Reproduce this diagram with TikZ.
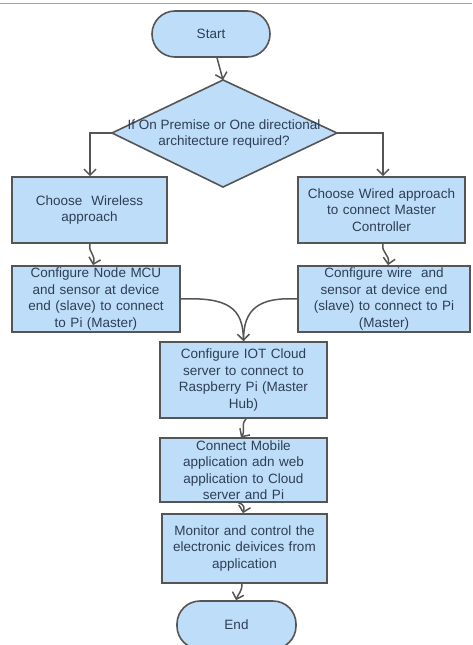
\documentclass[tikz,border=0pt]{standalone}
\usepackage{fontspec}
\setmainfont{Liberation Sans}
\usetikzlibrary{arrows.meta}
\definecolor{boxfill}{HTML}{BEDDF8}
\definecolor{boxline}{HTML}{555555}
\definecolor{txt}{HTML}{2E3E55}
\tikzset{
  box/.style={draw=boxline, fill=boxfill, line width=1.6pt, text=txt, align=center,
    inner sep=2pt, font=\fontsize{13.5}{16.5}\selectfont},
  term/.style={box, rounded corners=23pt},
  conn/.style={draw=boxline, line width=1.5pt, -{Straight Barb[length=6pt,width=12pt,line width=1.5pt]}},
  plain/.style={draw=boxline, line width=1.5pt}
}
\begin{document}
\begin{tikzpicture}[x=1pt,y=-1pt]
\useasboundingbox (0,0) rectangle (472,645);
\fill[white] (0,0) rectangle (472,645);
\draw[gray!70, line width=0.8pt] (0,3) -- (472,3);

\node[term, minimum width=118pt, minimum height=46pt] (start) at (211,34) {Start};

\coordinate (dT) at (223,80);
\coordinate (dL) at (112,133);
\coordinate (dR) at (337,133);
\coordinate (dB) at (223,187);
\path[draw=boxline, fill=boxfill, line width=1.6pt] (dT) -- (dR) -- (dB) -- (dL) -- cycle;
\node[text=txt, align=center, font=\fontsize{13.5}{16.5}\selectfont, inner sep=0pt] (dec) at (224,134)
  {If On Premise or One directional\\architecture required?};

\node[box, minimum width=155pt, minimum height=66pt, text width=150pt] (wl) at (89.5,210) {Choose\ \ Wireless\\approach};
\node[box, minimum width=167pt, minimum height=66pt, text width=162pt] (wd) at (381.5,210) {Choose Wired approach\\to connect Master\\Controller};
\node[box, minimum width=168pt, minimum height=66pt, text width=163pt] (mcu) at (96,299) {Configure Node MCU\\and sensor at device\\end (slave) to connect\\to Pi (Master)};
\node[box, minimum width=172pt, minimum height=66pt, text width=167pt] (wc) at (384,299) {Configure wire\ \ and\\sensor at device end\\(slave) to connect to Pi\\(Master)};
\node[box, minimum width=167pt, minimum height=76pt, text width=162pt] (iot) at (243.5,380) {Configure IOT Cloud\\server to connect to\\Raspberry Pi (Master\\Hub)};
\node[box, minimum width=167pt, minimum height=63pt, text width=162pt] (mob) at (243.5,470) {Connect Mobile\\application adn web\\application to Cloud\\server and Pi};
\node[box, minimum width=165pt, minimum height=69pt, text width=160pt] (mon) at (244.5,548.5) {Monitor and control the\\electronic deivices from\\application};
\node[term, minimum width=119pt, minimum height=48pt] (end) at (236.5,625) {End};

\draw[conn] ([xshift=6pt]start.south) -- (dT);
\draw[conn] (dL) -- (90,133) -- (wl.north -| 90,0);
\draw[conn] (dR) -- (383,133) -- (wd.north -| 383,0);
\draw[conn] (wl.south -| 90,0) .. controls (88,253) and (96,254) .. (mcu.north -| 93,0);
\draw[conn] (wd.south -| 383,0) .. controls (381,253) and (390,254) .. (wc.north -| 388,0);
\draw[conn] (mcu.east) .. controls (228,297) and (243,308) .. (iot.north);
\draw[plain] (wc.west) .. controls (260,297) and (243,308) .. (iot.north);
\draw[conn] (iot.south -| 246,0) .. controls (240,426) and (246,430) .. (mob.north -| 241,0);
\draw[conn] (mob.south -| 238,0) .. controls (246,505) and (244,509) .. (mon.north -| 243,0);
\draw[conn] (mon.south -| 242,0) .. controls (242,592) and (238,594) .. (end.north -| 236,0);
\end{tikzpicture}
\end{document}
